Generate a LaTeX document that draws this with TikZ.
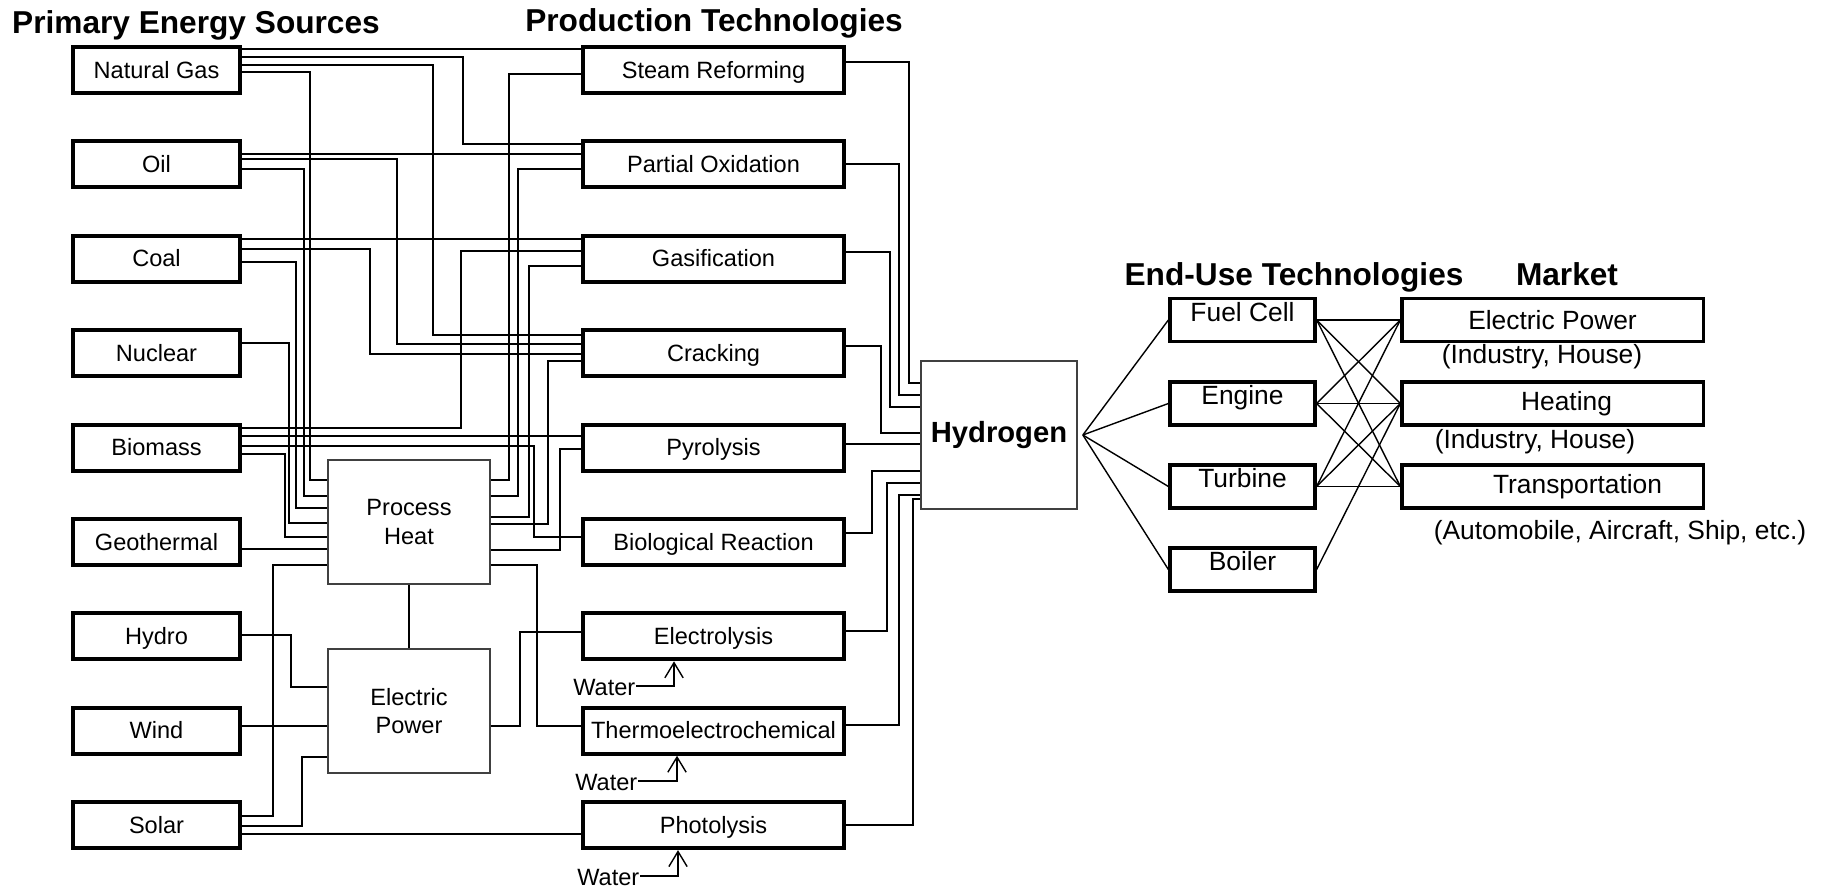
\documentclass[tikz,border=0pt]{standalone}
\usepackage{fontspec}
\setmainfont{Liberation Sans}
\usetikzlibrary{arrows.meta}

\newcommand{\techfont}{\fontsize{6.7}{8}\selectfont}
\newcommand{\marketfont}{\fontsize{7.5}{9}\selectfont}
\newcommand{\headingfont}{\fontsize{9}{11}\selectfont\bfseries}
\newcommand{\hydrofont}{\fontsize{8.3}{10}\selectfont\bfseries}

\tikzset{
  source/.style={draw, line width=1.1pt, minimum width=1.67cm, minimum height=0.46cm, inner sep=0pt, text height=4.6pt, text depth=0pt, font=\techfont},
  tech/.style={source, minimum width=2.61cm},
  inter/.style={draw=black!75, line width=0.45pt, minimum width=1.62cm, minimum height=1.24cm, inner sep=0pt, align=center, font=\techfont},
  carrier/.style={inter, minimum width=1.56cm, minimum height=1.48cm, font=\hydrofont},
  enduse/.style={draw, line width=0.9pt, minimum width=1.45cm, minimum height=0.43cm, inner sep=0pt, text height=5.5pt, text depth=4.7pt, font=\marketfont},
  market/.style={draw, line width=0.9pt, minimum width=3.01cm, minimum height=0.43cm, inner sep=0pt, font=\marketfont},
  note/.style={inner sep=0pt, font=\marketfont},
  head/.style={anchor=base, inner sep=0pt, font=\headingfont},
  link/.style={line width=0.4pt},
  water/.style={link, -{Straight Barb[length=4.3pt,width=5.2pt]}},
}

\begin{document}
\begin{tikzpicture}[x=0.01cm, y=-0.01cm]
    \useasboundingbox (0,0) rectangle (1822,886);

    % column headings
    \node[head] (hSources) at (196,34) {Primary Energy Sources};
    \node[head] (hTech) at (714,32) {Production Technologies};
    \node[head] (hEndUse) at (1294,286) {End-Use Technologies};
    \node[head] (hMarket) at (1567,286) {Market};

    % primary energy sources
    \node[source] (NatGas) at (156.5,70) {Natural Gas};
    \node[source] (Oil) at (156.5,164.4) {Oil};
    \node[source] (Coal) at (156.5,258.8) {Coal};
    \node[source] (Nuclear) at (156.5,353.2) {Nuclear};
    \node[source] (Biomass) at (156.5,447.6) {Biomass};
    \node[source] (Geothermal) at (156.5,542) {Geothermal};
    \node[source] (Hydro) at (156.5,636.4) {Hydro};
    \node[source] (Wind) at (156.5,730.8) {Wind};
    \node[source] (Solar) at (156.5,825.2) {Solar};

    % secondary forms
    \node[inter] (ProcHeat) at (409,522) {Process\\Heat};
    \node[inter] (ElecPower) at (409,711) {Electric\\Power};

    % production technologies
    \node[tech] (Steam) at (713.5,70) {Steam Reforming};
    \node[tech] (Partial) at (713.5,164.4) {Partial Oxidation};
    \node[tech] (Gasif) at (713.5,258.8) {Gasification};
    \node[tech] (Cracking) at (713.5,353.2) {Cracking};
    \node[tech] (Pyrolysis) at (713.5,447.6) {Pyrolysis};
    \node[tech] (BioReact) at (713.5,542) {Biological Reaction};
    \node[tech] (Electro) at (713.5,636.4) {Electrolysis};
    \node[tech] (Thermo) at (713.5,730.8) {Thermoelectrochemical};
    \node[tech] (Photolysis) at (713.5,825.2) {Photolysis};

    \node[carrier] (Hydrogen) at (999,435) {Hydrogen};

    % end use and market
    \node[enduse] (FuelCell) at (1242.5,320) {Fuel Cell};
    \node[enduse] (Engine) at (1242.5,403.5) {Engine};
    \node[enduse] (Turbine) at (1242.5,486.5) {Turbine};
    \node[enduse] (Boiler) at (1242.5,569.5) {Boiler};

    \node[market] (MktPower) at (1552.5,320) {Electric Power};
    \node[market] (MktHeat) at (1552.5,403.5) {\hspace*{0.28cm}Heating};
    \node[market] (MktTrans) at (1552.5,486.5) {\hspace*{0.5cm}Transportation};

    \node[note] (notePower) at (1542,357) {(Industry, House)};
    \node[note] (noteHeat) at (1535,442) {(Industry, House)};
    \node[note] (noteTrans) at (1620,533) {(Automobile, Aircraft, Ship, etc.)};

    % water feeds
    \node[note, font=\techfont, anchor=mid east] (water1) at (636,686) {Water};
    \node[note, font=\techfont, anchor=mid east] (water2) at (638,781) {Water};
    \node[note, font=\techfont, anchor=mid east] (water3) at (640,876) {Water};
    \draw[water] (water1.mid east) -| (Electro.south -| 674,0);
    \draw[water] (water2.mid east) -| (Thermo.south -| 677,0);
    \draw[water] (water3.mid east) -| (Photolysis.south -| 678,0);

    % natural gas, oil, coal
    \draw[link] (NatGas.east |- 0,49) -- (Steam.west |- 0,49);
    \draw[link] (NatGas.east |- 0,57) -| (463,144) -- (Partial.west |- 0,144);
    \draw[link] (NatGas.east |- 0,65) -| (433,335) -- (Cracking.west |- 0,335);
    \draw[link] (NatGas.east |- 0,72) -| (310,480) -- (ProcHeat.west |- 0,480);
    \draw[link] (Oil.east |- 0,154) -- (Partial.west |- 0,154);
    \draw[link] (Oil.east |- 0,159) -| (397,344) -- (Cracking.west |- 0,344);
    \draw[link] (Oil.east |- 0,169) -| (304,496) -- (ProcHeat.west |- 0,496);
    \draw[link] (Coal.east |- 0,239) -- (Gasif.west |- 0,239);
    \draw[link] (Coal.east |- 0,249) -| (370,354) -- (Cracking.west |- 0,354);
    \draw[link] (Coal.east |- 0,262) -| (296,508) -- (ProcHeat.west |- 0,508);

    % nuclear, biomass, geothermal
    \draw[link] (Nuclear.east |- 0,343) -| (289,523) -- (ProcHeat.west |- 0,523);
    \draw[link] (Biomass.east |- 0,428) -| (461,251) -- (Gasif.west |- 0,251);
    \draw[link] (Biomass.east |- 0,436) -- (Pyrolysis.west |- 0,436);
    \draw[link] (Biomass.east |- 0,446) -| (534,537) -- (BioReact.west |- 0,537);
    \draw[link] (Biomass.east |- 0,454) -| (285,537) -- (ProcHeat.west |- 0,537);
    \draw[link] (Geothermal.east |- 0,549) -- (ProcHeat.west |- 0,549);

    % hydro, wind, solar
    \draw[link] (Hydro.east |- 0,635) -| (291,687) -- (ElecPower.west |- 0,687);
    \draw[link] (Wind.east |- 0,726) -- (ElecPower.west |- 0,726);
    \draw[link] (Solar.east |- 0,816) -| (273,565) -- (ProcHeat.west |- 0,565);
    \draw[link] (Solar.east |- 0,826) -| (302,757) -- (ElecPower.west |- 0,757);
    \draw[link] (Solar.east |- 0,834) -- (Photolysis.west |- 0,834);

    % process heat and electric power into the technologies
    \draw[link] (ProcHeat.east |- 0,480) -| (509,74) -- (Steam.west |- 0,74);
    \draw[link] (ProcHeat.east |- 0,496) -| (518,169) -- (Partial.west |- 0,169);
    \draw[link] (ProcHeat.east |- 0,517) -| (529,266) -- (Gasif.west |- 0,266);
    \draw[link] (ProcHeat.east |- 0,524) -| (548,361) -- (Cracking.west |- 0,361);
    \draw[link] (ProcHeat.east |- 0,550) -| (560,449) -- (Pyrolysis.west |- 0,449);
    \draw[link] (ProcHeat.east |- 0,565) -| (537,726) -- (Thermo.west |- 0,726);
    \draw[link] (ProcHeat) -- (ElecPower);
    \draw[link] (ElecPower.east |- 0,726) -| (520,632) -- (Electro.west |- 0,632);

    % technologies into hydrogen
    \draw[link] (Steam.east |- 0,62) -| (909,383) -- (Hydrogen.west |- 0,383);
    \draw[link] (Partial.east |- 0,164) -| (899,395) -- (Hydrogen.west |- 0,395);
    \draw[link] (Gasif.east |- 0,252) -| (890,407) -- (Hydrogen.west |- 0,407);
    \draw[link] (Cracking.east |- 0,346) -| (881,433) -- (Hydrogen.west |- 0,433);
    \draw[link] (Pyrolysis.east |- 0,444) -- (Hydrogen.west |- 0,444);
    \draw[link] (BioReact.east |- 0,533) -| (872,471) -- (Hydrogen.west |- 0,471);
    \draw[link] (Electro.east |- 0,631) -| (887,483) -- (Hydrogen.west |- 0,483);
    \draw[link] (Thermo.east |- 0,725) -| (899,495) -- (Hydrogen.west |- 0,495);
    \draw[link] (Photolysis.east |- 0,825) -| (913,499) -- (Hydrogen.west |- 0,499);

    % hydrogen to end use
    \coordinate (hub) at ([xshift=0.05cm]Hydrogen.east);
    \draw[link] (hub) -- (FuelCell.west);
    \draw[link] (hub) -- (Engine.west);
    \draw[link] (hub) -- (Turbine.west);
    \draw[link] (hub) -- (Boiler.west);

    % end use to market
    \draw[link] (FuelCell.east) -- (MktPower.west);
    \draw[link] (FuelCell.east) -- (MktHeat.west);
    \draw[link] (FuelCell.east) -- (MktTrans.west);
    \draw[link] (Engine.east) -- (MktPower.west);
    \draw[link] (Engine.east) -- (MktHeat.west);
    \draw[link] (Engine.east) -- (MktTrans.west);
    \draw[link] (Turbine.east) -- (MktPower.west);
    \draw[link] (Turbine.east) -- (MktHeat.west);
    \draw[link] (Turbine.east) -- (MktTrans.west);
    \draw[link] (Boiler.east) -- (MktHeat.west);
\end{tikzpicture}
\end{document}
